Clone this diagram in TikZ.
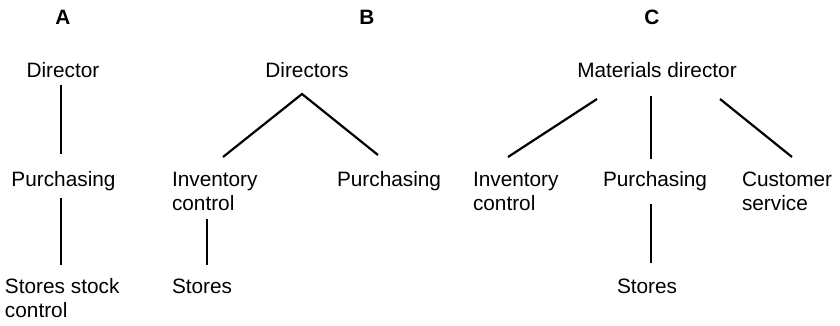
\documentclass[tikz,border=0pt]{standalone}
\usepackage{fontspec}
\setmainfont{Liberation Sans}
\usetikzlibrary{calc}
\tikzset{
  lbl/.style={inner sep=0pt, outer sep=0pt, align=left,
    font=\fontsize{20.8}{24}\selectfont},
  head/.style={lbl, font=\fontsize{20.8}{24}\selectfont\bfseries},
  link/.style={line width=2.2pt, line cap=butt}
}
\begin{document}
\begin{tikzpicture}[x=1pt,y=-1pt]
\useasboundingbox (0,0) rectangle (840,325);
\fill[white] (0,0) rectangle (840,325);

% ---- Structure A ----
% two-line labels are anchored at the baseline of their last line
\node[head, anchor=base] (hA) at (63,24) {A};
\node[lbl, anchor=base] (dirA) at (63,77) {Director};
\node[lbl, anchor=base] (purA) at (63.5,186) {Purchasing};
\node[lbl, anchor=base west] (stoA) at (5,317) {Stores stock\\control};
\draw[link] ($(dirA.base)+(-2,8)$) -- ($(purA.base)+(-2.5,-32)$);
\draw[link] ($(purA.base)+(-2.5,12)$) -- ($(stoA.base west)+(56,-52)$);

% ---- Structure B ----
\node[head, anchor=base] (hB) at (367,24) {B};
\node[lbl, anchor=base] (dirB) at (307,77) {Directors};
\node[lbl, anchor=base west] (invB) at (172,210) {Inventory\\control};
\node[lbl, anchor=base west] (purB) at (337,186) {Purchasing};
\node[lbl, anchor=base west] (stoB) at (172,293) {Stores};
\draw[link] ($(invB.base west)+(51,-53)$) -- ($(dirB.base)+(-5,17)$)
  -- ($(purB.base west)+(41,-31)$);
\draw[link] ($(invB.base west)+(35,9)$) -- ($(stoB.base west)+(35,-28)$);

% ---- Structure C ----
\node[head, anchor=base] (hC) at (652,24) {C};
\node[lbl, anchor=base] (dirC) at (657,77) {Materials director};
\node[lbl, anchor=base west] (invC) at (473,210) {Inventory\\control};
\node[lbl, anchor=base west] (purC) at (603,186) {Purchasing};
\node[lbl, anchor=base west] (cusC) at (742,210) {Customer\\service};
\node[lbl, anchor=base west] (stoC) at (617,293) {Stores};
\draw[link] ($(dirC.base)+(-60,22)$) -- ($(invC.base west)+(35,-53)$);
\draw[link] ($(dirC.base)+(-6,19)$) -- ($(purC.base west)+(48,-27)$);
\draw[link] ($(dirC.base)+(63,22)$) -- ($(cusC.base west)+(50,-53)$);
\draw[link] ($(purC.base west)+(48,18)$) -- ($(stoC.base west)+(34,-30)$);
\end{tikzpicture}
\end{document}
